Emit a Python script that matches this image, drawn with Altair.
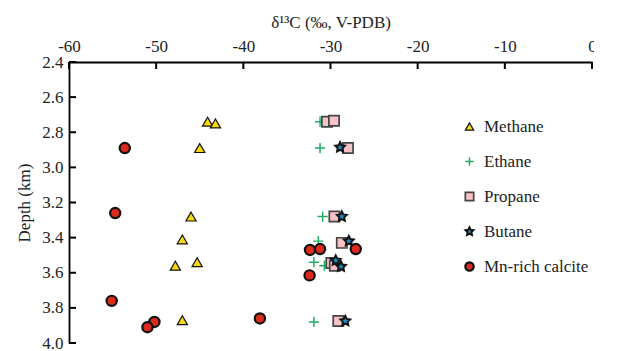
import altair as alt
import pandas as pd

series_names = ["Methane", "Ethane", "Propane", "Butane", "Mn-rich calcite"]

methane_d13c = [-44.1, -43.2, -45.0, -46.0, -47.0, -47.8, -45.3, -47.0]
methane_depth = [2.74, 2.75, 2.89, 3.28, 3.41, 3.56, 3.54, 3.87]

ethane_d13c = [-31.2, -31.2, -30.9, -31.4, -31.9, -30.7, -31.9]
ethane_depth = [2.74, 2.89, 3.28, 3.42, 3.54, 3.56, 3.88]

propane_d13c = [-30.4, -29.6, -28.0, -29.55, -28.7, -29.9, -29.5, -29.1]
propane_depth = [2.74, 2.735, 2.89, 3.28, 3.43, 3.545, 3.56, 3.875]

butane_d13c = [-28.9, -28.7, -27.9, -29.4, -28.8, -28.3]
butane_depth = [2.886, 3.28, 3.42, 3.53, 3.565, 3.875]

calcite_d13c = [-53.6, -54.7, -55.1, -50.2, -51.0, -38.1, -32.35, -31.2, -27.1, -32.4]
calcite_depth = [2.89, 3.26, 3.76, 3.88, 3.91, 3.86, 3.47, 3.465, 3.465, 3.615]

x_ticks = [-60, -50, -40, -30, -20, -10, 0]
y_ticks = [2.4, 2.6, 2.8, 3.0, 3.2, 3.4, 3.6, 3.8, 4.0]

rows = []
for name, xs, ys in [
    ("Methane", methane_d13c, methane_depth),
    ("Ethane", ethane_d13c, ethane_depth),
    ("Propane", propane_d13c, propane_depth),
    ("Butane", butane_d13c, butane_depth),
    ("Mn-rich calcite", calcite_d13c, calcite_depth),
]:
    for xv, yv in zip(xs, ys):
        rows.append({"series": name, "d13C": xv, "depth": yv})
df = pd.DataFrame(rows)
xt_df = pd.DataFrame({"d13C": x_ticks})
yt_df = pd.DataFrame({"depth": y_ticks})

FONT = "Liberation Serif"
plus_path = "M-1,0H1M0,-1V1"
star_path = ("M0,-1L0.294,-0.405L0.951,-0.309L0.476,0.155L0.588,0.809L0,0.5"
             "L-0.588,0.809L-0.476,0.155L-0.951,-0.309L-0.294,-0.405Z")

xscale = alt.Scale(domain=[-60, 0], nice=False, zero=False)
yscale = alt.Scale(domain=[2.4, 4.0], reverse=True, nice=False, zero=False)

main_x_axis = alt.Axis(
    orient="top", values=x_ticks, labelExpr="'' + datum.value", ticks=False, tickSize=0,
    grid=False, domainColor="black", domainWidth=1.8, labelFont=FONT,
    labelFontSize=17, labelColor="#222", labelPadding=7, labelOverlap=False,
    labelFlush=False,
    title="δ¹³C (‰, V-PDB)", titleFont=FONT, titleFontSize=17,
    titleFontWeight="normal", titleColor="#222", titlePadding=6,
)
main_y_axis = alt.Axis(
    orient="left", values=y_ticks, format=".1f", ticks=False, tickSize=0,
    grid=False, domainColor="black", domainWidth=1.8, labelFont=FONT,
    labelFontSize=17, labelColor="#222", labelPadding=6, labelOverlap=False,
    labelFlush=False,
    title="Depth (km)", titleFont=FONT, titleFontSize=17,
    titleFontWeight="normal", titleColor="#222", titlePadding=8,
)

x_tick_marks = alt.Chart(xt_df).mark_rule(color="black", strokeWidth=2, opacity=1).encode(
    x=alt.X("d13C:Q", scale=xscale, axis=main_x_axis),
    y=alt.value(0),
    y2=alt.value(7),
)
y_tick_marks = alt.Chart(yt_df).mark_rule(color="black", strokeWidth=2, opacity=1).encode(
    y=alt.Y("depth:Q", scale=yscale, axis=main_y_axis),
    x=alt.value(0),
    x2=alt.value(7),
)

legend = alt.Legend(
    title=None, orient="none", legendX=392, legendY=56,
    labelFont=FONT, labelFontSize=17, labelColor="#222",
    symbolSize=70, rowPadding=17, labelOffset=6, padding=0,
)

points = alt.Chart(df).mark_point(filled=True, opacity=1, size=105).encode(
    x=alt.X("d13C:Q", scale=xscale, axis=main_x_axis),
    y=alt.Y("depth:Q", scale=yscale, axis=main_y_axis),
    shape=alt.Shape("series:N", scale=alt.Scale(domain=series_names,
        range=["triangle-up", plus_path, "square", star_path, "circle"]), legend=legend),
    fill=alt.Fill("series:N", scale=alt.Scale(domain=series_names,
        range=["#f6d80e", "#20ad60", "#f8c2c7", "#1c8cbf", "#dc2b1d"]), legend=legend),
    stroke=alt.Stroke("series:N", scale=alt.Scale(domain=series_names,
        range=["#111111", "#20ad60", "#444444", "#111111", "#111111"]), legend=legend),
    strokeWidth=alt.StrokeWidth("series:N", scale=alt.Scale(domain=series_names,
        range=[1.2, 2.2, 1.2, 1.0, 1.2]), legend=legend),
)

chart = alt.layer(points, x_tick_marks, y_tick_marks).properties(
    width=523, height=281,
    autosize=alt.AutoSizeParams(type="none"),
    padding={"left": 61, "top": 54, "right": 2, "bottom": 10},
).configure_view(stroke=None)

chart.save("out.html", embed_options={"renderer": "svg", "actions": False})
